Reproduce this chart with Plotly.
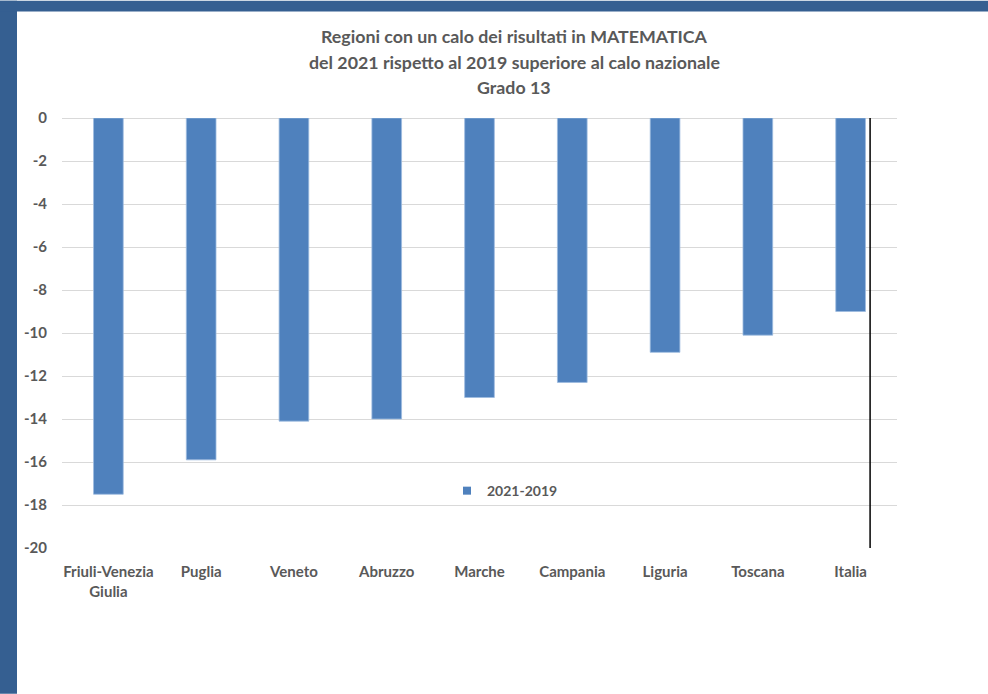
import plotly.graph_objects as go

# Calo dei risultati in matematica, Grado 13 (differenza 2021-2019)
regioni = ["Friuli-Venezia<br>Giulia", "Puglia", "Veneto", "Abruzzo", "Marche",
           "Campania", "Liguria", "Toscana", "Italia"]
differenza = [-17.5, -15.9, -14.1, -14.0, -13.0, -12.3, -10.9, -10.1, -9.0]
tick_y = [0, -2, -4, -6, -8, -10, -12, -14, -16, -18, -20]
serie = "2021-2019"
titolo = ["Regioni con un calo dei risultati in MATEMATICA",
          "del 2021 rispetto al 2019 superiore al calo nazionale",
          "Grado 13"]

W, H = 988, 694
ML, MR, MT, MB = 62, 91, 117.5, 146
PW, PH = W - ML - MR, H - MT - MB

FONT = "Lato"
GREY = "#595959"
FRAME = "#355F91"
BAR = "#4F81BD"


def px_x(px):
    return (px - ML) / PW


def px_y(py):
    return (H - MB - py) / PH


fig = go.Figure()
fig.add_trace(go.Bar(
    x=list(range(len(regioni))),
    y=differenza,
    name=serie,
    marker=dict(color=BAR, line=dict(color="#9DBBE0", width=0.8)),
    showlegend=False,
))
# voce di legenda con il quadratino piccolo
fig.add_trace(go.Scatter(
    x=[None], y=[None], mode="markers", name=serie,
    marker=dict(symbol="square", size=8, color=BAR),
    showlegend=True,
))

shapes = [
    # cornice blu a sinistra e in alto
    dict(type="rect", xref="paper", yref="paper", x0=px_x(0), x1=px_x(17),
         y0=px_y(H), y1=px_y(0), fillcolor=FRAME, line=dict(width=0), layer="below"),
    dict(type="rect", xref="paper", yref="paper", x0=px_x(0), x1=px_x(W),
         y0=px_y(11), y1=px_y(0), fillcolor=FRAME, line=dict(width=0), layer="below"),
    # linea verticale accanto a Italia
    dict(type="line", xref="x", yref="y", x0=8.21, x1=8.21, y0=0.08, y1=-20,
         line=dict(color="black", width=1.5)),
]

annotations = [
    dict(text=riga, xref="paper", yref="paper", x=px_x(514), y=px_y(yc),
         xanchor="center", yanchor="middle", showarrow=False,
         font=dict(family=FONT, size=17.8, color=GREY, weight="bold"))
    for riga, yc in zip(titolo, [35, 61, 86])
]

fig.update_layout(
    width=W, height=H,
    margin=dict(l=ML, r=MR, t=MT, b=MB),
    paper_bgcolor="white", plot_bgcolor="white",
    font=dict(family=FONT, color=GREY, size=14),
    bargap=0.68,
    shapes=shapes,
    annotations=annotations,
    legend=dict(
        x=px_x(447), y=px_y(491), xanchor="left", yanchor="middle",
        bgcolor="rgba(0,0,0,0)", font=dict(size=14, color=GREY, weight="bold"),
        itemwidth=30,
    ),
    xaxis=dict(
        tickmode="array", tickvals=list(range(len(regioni))), ticktext=regioni,
        range=[-0.5, len(regioni) - 0.5],
        showgrid=False, zeroline=False, showline=False,
        ticks="", ticklabelstandoff=13,
        tickfont=dict(size=15, color=GREY, weight="bold"),
    ),
    yaxis=dict(
        range=[-20, 0], tickvals=tick_y, ticktext=[str(v) for v in tick_y],
        showgrid=True, gridcolor="#D9D9D9", gridwidth=1,
        zeroline=True, zerolinecolor="#D9D9D9", zerolinewidth=1,
        showline=False, ticks="", ticklabelstandoff=14,
        tickfont=dict(size=15, color=GREY, weight="bold"),
    ),
)

fig.write_html("out.html")
